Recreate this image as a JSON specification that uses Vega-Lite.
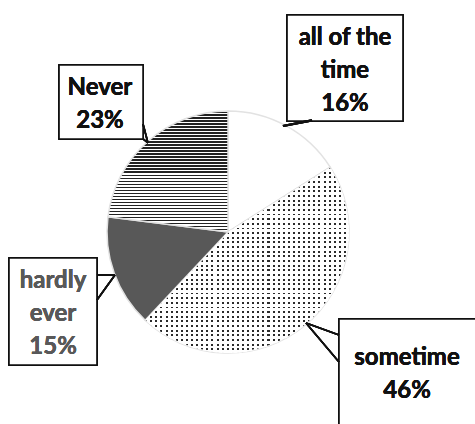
{
  "$schema": "https://vega.github.io/schema/vega-lite/v6.json",
  "width": 475,
  "height": 424,
  "padding": 0,
  "autosize": {"type": "none"},
  "background": "white",
  "config": {"view": {"stroke": null}},
  "data": {"values": [
    {"cat": "all of the time", "pct": 16, "idx": 1},
    {"cat": "sometime", "pct": 46, "idx": 2},
    {"cat": "hardly ever", "pct": 15, "idx": 3},
    {"cat": "Never", "pct": 23, "idx": 4}
  ]},
  "layer": [
    {
      "mark": {"type": "arc", "outerRadius": 121, "stroke": "#e2e2e2", "strokeWidth": 1.5},
      "encoding": {
        "x": {"datum": 0, "type": "quantitative", "scale": {"domain": [-1.9, 2.0583], "nice": false, "zero": false}, "axis": null},
        "y": {"datum": 0, "type": "quantitative", "scale": {"domain": [-1.6, 1.9333], "nice": false, "zero": false}, "axis": null},
        "theta": {"field": "pct", "type": "quantitative", "stack": true},
        "order": {"field": "idx", "type": "quantitative"},
        "color": {
          "condition": [
            {"test": "datum.cat === 'Never'", "value": {"gradient": "linear", "x1": 0, "y1": 0, "x2": 0, "y2": 1, "stops": [
{"offset":0,"color":"#222"},{"offset":0.0125,"color":"#222"},{"offset":0.0125,"color":"#fff"},{"offset":0.025,"color":"#fff"},
{"offset":0.025,"color":"#222"},{"offset":0.0375,"color":"#222"},{"offset":0.0375,"color":"#fff"},{"offset":0.05,"color":"#fff"},
{"offset":0.05,"color":"#222"},{"offset":0.0625,"color":"#222"},{"offset":0.0625,"color":"#fff"},{"offset":0.075,"color":"#fff"},
{"offset":0.075,"color":"#222"},{"offset":0.0875,"color":"#222"},{"offset":0.0875,"color":"#fff"},{"offset":0.1,"color":"#fff"},
{"offset":0.1,"color":"#222"},{"offset":0.1125,"color":"#222"},{"offset":0.1125,"color":"#fff"},{"offset":0.125,"color":"#fff"},
{"offset":0.125,"color":"#222"},{"offset":0.1375,"color":"#222"},{"offset":0.1375,"color":"#fff"},{"offset":0.15,"color":"#fff"},
{"offset":0.15,"color":"#222"},{"offset":0.1625,"color":"#222"},{"offset":0.1625,"color":"#fff"},{"offset":0.175,"color":"#fff"},
{"offset":0.175,"color":"#222"},{"offset":0.1875,"color":"#222"},{"offset":0.1875,"color":"#fff"},{"offset":0.2,"color":"#fff"},
{"offset":0.2,"color":"#222"},{"offset":0.2125,"color":"#222"},{"offset":0.2125,"color":"#fff"},{"offset":0.225,"color":"#fff"},
{"offset":0.225,"color":"#222"},{"offset":0.2375,"color":"#222"},{"offset":0.2375,"color":"#fff"},{"offset":0.25,"color":"#fff"},
{"offset":0.25,"color":"#222"},{"offset":0.2625,"color":"#222"},{"offset":0.2625,"color":"#fff"},{"offset":0.275,"color":"#fff"},
{"offset":0.275,"color":"#222"},{"offset":0.2875,"color":"#222"},{"offset":0.2875,"color":"#fff"},{"offset":0.3,"color":"#fff"},
{"offset":0.3,"color":"#222"},{"offset":0.3125,"color":"#222"},{"offset":0.3125,"color":"#fff"},{"offset":0.325,"color":"#fff"},
{"offset":0.325,"color":"#222"},{"offset":0.3375,"color":"#222"},{"offset":0.3375,"color":"#fff"},{"offset":0.35,"color":"#fff"},
{"offset":0.35,"color":"#222"},{"offset":0.3625,"color":"#222"},{"offset":0.3625,"color":"#fff"},{"offset":0.375,"color":"#fff"},
{"offset":0.375,"color":"#222"},{"offset":0.3875,"color":"#222"},{"offset":0.3875,"color":"#fff"},{"offset":0.4,"color":"#fff"},
{"offset":0.4,"color":"#222"},{"offset":0.4125,"color":"#222"},{"offset":0.4125,"color":"#fff"},{"offset":0.425,"color":"#fff"},
{"offset":0.425,"color":"#222"},{"offset":0.4375,"color":"#222"},{"offset":0.4375,"color":"#fff"},{"offset":0.45,"color":"#fff"},
{"offset":0.45,"color":"#222"},{"offset":0.4625,"color":"#222"},{"offset":0.4625,"color":"#fff"},{"offset":0.475,"color":"#fff"},
{"offset":0.475,"color":"#222"},{"offset":0.4875,"color":"#222"},{"offset":0.4875,"color":"#fff"},{"offset":0.5,"color":"#fff"},
{"offset":0.5,"color":"#222"},{"offset":0.5125,"color":"#222"},{"offset":0.5125,"color":"#fff"},{"offset":0.525,"color":"#fff"},
{"offset":0.525,"color":"#222"},{"offset":0.5375,"color":"#222"},{"offset":0.5375,"color":"#fff"},{"offset":0.55,"color":"#fff"},
{"offset":0.55,"color":"#222"},{"offset":0.5625,"color":"#222"},{"offset":0.5625,"color":"#fff"},{"offset":0.575,"color":"#fff"},
{"offset":0.575,"color":"#222"},{"offset":0.5875,"color":"#222"},{"offset":0.5875,"color":"#fff"},{"offset":0.6,"color":"#fff"},
{"offset":0.6,"color":"#222"},{"offset":0.6125,"color":"#222"},{"offset":0.6125,"color":"#fff"},{"offset":0.625,"color":"#fff"},
{"offset":0.625,"color":"#222"},{"offset":0.6375,"color":"#222"},{"offset":0.6375,"color":"#fff"},{"offset":0.65,"color":"#fff"},
{"offset":0.65,"color":"#222"},{"offset":0.6625,"color":"#222"},{"offset":0.6625,"color":"#fff"},{"offset":0.675,"color":"#fff"},
{"offset":0.675,"color":"#222"},{"offset":0.6875,"color":"#222"},{"offset":0.6875,"color":"#fff"},{"offset":0.7,"color":"#fff"},
{"offset":0.7,"color":"#222"},{"offset":0.7125,"color":"#222"},{"offset":0.7125,"color":"#fff"},{"offset":0.725,"color":"#fff"},
{"offset":0.725,"color":"#222"},{"offset":0.7375,"color":"#222"},{"offset":0.7375,"color":"#fff"},{"offset":0.75,"color":"#fff"},
{"offset":0.75,"color":"#222"},{"offset":0.7625,"color":"#222"},{"offset":0.7625,"color":"#fff"},{"offset":0.775,"color":"#fff"},
{"offset":0.775,"color":"#222"},{"offset":0.7875,"color":"#222"},{"offset":0.7875,"color":"#fff"},{"offset":0.8,"color":"#fff"},
{"offset":0.8,"color":"#222"},{"offset":0.8125,"color":"#222"},{"offset":0.8125,"color":"#fff"},{"offset":0.825,"color":"#fff"},
{"offset":0.825,"color":"#222"},{"offset":0.8375,"color":"#222"},{"offset":0.8375,"color":"#fff"},{"offset":0.85,"color":"#fff"},
{"offset":0.85,"color":"#222"},{"offset":0.8625,"color":"#222"},{"offset":0.8625,"color":"#fff"},{"offset":0.875,"color":"#fff"},
{"offset":0.875,"color":"#222"},{"offset":0.8875,"color":"#222"},{"offset":0.8875,"color":"#fff"},{"offset":0.9,"color":"#fff"},
{"offset":0.9,"color":"#222"},{"offset":0.9125,"color":"#222"},{"offset":0.9125,"color":"#fff"},{"offset":0.925,"color":"#fff"},
{"offset":0.925,"color":"#222"},{"offset":0.9375,"color":"#222"},{"offset":0.9375,"color":"#fff"},{"offset":0.95,"color":"#fff"},
{"offset":0.95,"color":"#222"},{"offset":0.9625,"color":"#222"},{"offset":0.9625,"color":"#fff"},{"offset":0.975,"color":"#fff"},
{"offset":0.975,"color":"#222"},{"offset":0.9875,"color":"#222"},{"offset":0.9875,"color":"#fff"},{"offset":1,"color":"#fff"}
            ]}},
            {"test": "datum.cat === 'sometime'", "value": "#2a2a2a"},
            {"test": "datum.cat === 'hardly ever'", "value": "#585858"}
          ],
          "value": "#ffffff"
        }
      }
    },
    {
      "mark": {"type": "arc", "outerRadius": 121, "strokeWidth": 0},
      "encoding": {
        "x": {"datum": 0, "type": "quantitative"},
        "y": {"datum": 0, "type": "quantitative"},
        "theta": {"field": "pct", "type": "quantitative", "stack": true},
        "order": {"field": "idx", "type": "quantitative"},
        "color": {
          "condition": {"test": "datum.cat === 'sometime'", "value": {"gradient": "linear", "x1": 0, "y1": 0, "x2": 0, "y2": 1, "stops": [
{"offset":0,"color":"rgba(255,255,255,0)"},{"offset":0.01,"color":"rgba(255,255,255,0)"},{"offset":0.01,"color":"#fff"},{"offset":0.025,"color":"#fff"},
{"offset":0.025,"color":"rgba(255,255,255,0)"},{"offset":0.035,"color":"rgba(255,255,255,0)"},{"offset":0.035,"color":"#fff"},{"offset":0.05,"color":"#fff"},
{"offset":0.05,"color":"rgba(255,255,255,0)"},{"offset":0.06,"color":"rgba(255,255,255,0)"},{"offset":0.06,"color":"#fff"},{"offset":0.075,"color":"#fff"},
{"offset":0.075,"color":"rgba(255,255,255,0)"},{"offset":0.085,"color":"rgba(255,255,255,0)"},{"offset":0.085,"color":"#fff"},{"offset":0.1,"color":"#fff"},
{"offset":0.1,"color":"rgba(255,255,255,0)"},{"offset":0.11,"color":"rgba(255,255,255,0)"},{"offset":0.11,"color":"#fff"},{"offset":0.125,"color":"#fff"},
{"offset":0.125,"color":"rgba(255,255,255,0)"},{"offset":0.135,"color":"rgba(255,255,255,0)"},{"offset":0.135,"color":"#fff"},{"offset":0.15,"color":"#fff"},
{"offset":0.15,"color":"rgba(255,255,255,0)"},{"offset":0.16,"color":"rgba(255,255,255,0)"},{"offset":0.16,"color":"#fff"},{"offset":0.175,"color":"#fff"},
{"offset":0.175,"color":"rgba(255,255,255,0)"},{"offset":0.185,"color":"rgba(255,255,255,0)"},{"offset":0.185,"color":"#fff"},{"offset":0.2,"color":"#fff"},
{"offset":0.2,"color":"rgba(255,255,255,0)"},{"offset":0.21,"color":"rgba(255,255,255,0)"},{"offset":0.21,"color":"#fff"},{"offset":0.225,"color":"#fff"},
{"offset":0.225,"color":"rgba(255,255,255,0)"},{"offset":0.235,"color":"rgba(255,255,255,0)"},{"offset":0.235,"color":"#fff"},{"offset":0.25,"color":"#fff"},
{"offset":0.25,"color":"rgba(255,255,255,0)"},{"offset":0.26,"color":"rgba(255,255,255,0)"},{"offset":0.26,"color":"#fff"},{"offset":0.275,"color":"#fff"},
{"offset":0.275,"color":"rgba(255,255,255,0)"},{"offset":0.285,"color":"rgba(255,255,255,0)"},{"offset":0.285,"color":"#fff"},{"offset":0.3,"color":"#fff"},
{"offset":0.3,"color":"rgba(255,255,255,0)"},{"offset":0.31,"color":"rgba(255,255,255,0)"},{"offset":0.31,"color":"#fff"},{"offset":0.325,"color":"#fff"},
{"offset":0.325,"color":"rgba(255,255,255,0)"},{"offset":0.335,"color":"rgba(255,255,255,0)"},{"offset":0.335,"color":"#fff"},{"offset":0.35,"color":"#fff"},
{"offset":0.35,"color":"rgba(255,255,255,0)"},{"offset":0.36,"color":"rgba(255,255,255,0)"},{"offset":0.36,"color":"#fff"},{"offset":0.375,"color":"#fff"},
{"offset":0.375,"color":"rgba(255,255,255,0)"},{"offset":0.385,"color":"rgba(255,255,255,0)"},{"offset":0.385,"color":"#fff"},{"offset":0.4,"color":"#fff"},
{"offset":0.4,"color":"rgba(255,255,255,0)"},{"offset":0.41,"color":"rgba(255,255,255,0)"},{"offset":0.41,"color":"#fff"},{"offset":0.425,"color":"#fff"},
{"offset":0.425,"color":"rgba(255,255,255,0)"},{"offset":0.435,"color":"rgba(255,255,255,0)"},{"offset":0.435,"color":"#fff"},{"offset":0.45,"color":"#fff"},
{"offset":0.45,"color":"rgba(255,255,255,0)"},{"offset":0.46,"color":"rgba(255,255,255,0)"},{"offset":0.46,"color":"#fff"},{"offset":0.475,"color":"#fff"},
{"offset":0.475,"color":"rgba(255,255,255,0)"},{"offset":0.485,"color":"rgba(255,255,255,0)"},{"offset":0.485,"color":"#fff"},{"offset":0.5,"color":"#fff"},
{"offset":0.5,"color":"rgba(255,255,255,0)"},{"offset":0.51,"color":"rgba(255,255,255,0)"},{"offset":0.51,"color":"#fff"},{"offset":0.525,"color":"#fff"},
{"offset":0.525,"color":"rgba(255,255,255,0)"},{"offset":0.535,"color":"rgba(255,255,255,0)"},{"offset":0.535,"color":"#fff"},{"offset":0.55,"color":"#fff"},
{"offset":0.55,"color":"rgba(255,255,255,0)"},{"offset":0.56,"color":"rgba(255,255,255,0)"},{"offset":0.56,"color":"#fff"},{"offset":0.575,"color":"#fff"},
{"offset":0.575,"color":"rgba(255,255,255,0)"},{"offset":0.585,"color":"rgba(255,255,255,0)"},{"offset":0.585,"color":"#fff"},{"offset":0.6,"color":"#fff"},
{"offset":0.6,"color":"rgba(255,255,255,0)"},{"offset":0.61,"color":"rgba(255,255,255,0)"},{"offset":0.61,"color":"#fff"},{"offset":0.625,"color":"#fff"},
{"offset":0.625,"color":"rgba(255,255,255,0)"},{"offset":0.635,"color":"rgba(255,255,255,0)"},{"offset":0.635,"color":"#fff"},{"offset":0.65,"color":"#fff"},
{"offset":0.65,"color":"rgba(255,255,255,0)"},{"offset":0.66,"color":"rgba(255,255,255,0)"},{"offset":0.66,"color":"#fff"},{"offset":0.675,"color":"#fff"},
{"offset":0.675,"color":"rgba(255,255,255,0)"},{"offset":0.685,"color":"rgba(255,255,255,0)"},{"offset":0.685,"color":"#fff"},{"offset":0.7,"color":"#fff"},
{"offset":0.7,"color":"rgba(255,255,255,0)"},{"offset":0.71,"color":"rgba(255,255,255,0)"},{"offset":0.71,"color":"#fff"},{"offset":0.725,"color":"#fff"},
{"offset":0.725,"color":"rgba(255,255,255,0)"},{"offset":0.735,"color":"rgba(255,255,255,0)"},{"offset":0.735,"color":"#fff"},{"offset":0.75,"color":"#fff"},
{"offset":0.75,"color":"rgba(255,255,255,0)"},{"offset":0.76,"color":"rgba(255,255,255,0)"},{"offset":0.76,"color":"#fff"},{"offset":0.775,"color":"#fff"},
{"offset":0.775,"color":"rgba(255,255,255,0)"},{"offset":0.785,"color":"rgba(255,255,255,0)"},{"offset":0.785,"color":"#fff"},{"offset":0.8,"color":"#fff"},
{"offset":0.8,"color":"rgba(255,255,255,0)"},{"offset":0.81,"color":"rgba(255,255,255,0)"},{"offset":0.81,"color":"#fff"},{"offset":0.825,"color":"#fff"},
{"offset":0.825,"color":"rgba(255,255,255,0)"},{"offset":0.835,"color":"rgba(255,255,255,0)"},{"offset":0.835,"color":"#fff"},{"offset":0.85,"color":"#fff"},
{"offset":0.85,"color":"rgba(255,255,255,0)"},{"offset":0.86,"color":"rgba(255,255,255,0)"},{"offset":0.86,"color":"#fff"},{"offset":0.875,"color":"#fff"},
{"offset":0.875,"color":"rgba(255,255,255,0)"},{"offset":0.885,"color":"rgba(255,255,255,0)"},{"offset":0.885,"color":"#fff"},{"offset":0.9,"color":"#fff"},
{"offset":0.9,"color":"rgba(255,255,255,0)"},{"offset":0.91,"color":"rgba(255,255,255,0)"},{"offset":0.91,"color":"#fff"},{"offset":0.925,"color":"#fff"},
{"offset":0.925,"color":"rgba(255,255,255,0)"},{"offset":0.935,"color":"rgba(255,255,255,0)"},{"offset":0.935,"color":"#fff"},{"offset":0.95,"color":"#fff"},
{"offset":0.95,"color":"rgba(255,255,255,0)"},{"offset":0.96,"color":"rgba(255,255,255,0)"},{"offset":0.96,"color":"#fff"},{"offset":0.975,"color":"#fff"},
{"offset":0.975,"color":"rgba(255,255,255,0)"},{"offset":0.985,"color":"rgba(255,255,255,0)"},{"offset":0.985,"color":"#fff"},{"offset":1,"color":"#fff"}
          ]}},
          "value": "rgba(255,255,255,0)"
        }
      }
    },
    {
      "mark": {"type": "arc", "outerRadius": 121, "strokeWidth": 0},
      "encoding": {
        "x": {"datum": 0, "type": "quantitative"},
        "y": {"datum": 0, "type": "quantitative"},
        "theta": {"field": "pct", "type": "quantitative", "stack": true},
        "order": {"field": "idx", "type": "quantitative"},
        "color": {
          "condition": {"test": "datum.cat === 'sometime'", "value": {"gradient": "linear", "x1": 0, "y1": 0, "x2": 1, "y2": 0, "stops": [
{"offset":0,"color":"rgba(255,255,255,0)"},{"offset":0.01,"color":"rgba(255,255,255,0)"},{"offset":0.01,"color":"#fff"},{"offset":0.025,"color":"#fff"},
{"offset":0.025,"color":"rgba(255,255,255,0)"},{"offset":0.035,"color":"rgba(255,255,255,0)"},{"offset":0.035,"color":"#fff"},{"offset":0.05,"color":"#fff"},
{"offset":0.05,"color":"rgba(255,255,255,0)"},{"offset":0.06,"color":"rgba(255,255,255,0)"},{"offset":0.06,"color":"#fff"},{"offset":0.075,"color":"#fff"},
{"offset":0.075,"color":"rgba(255,255,255,0)"},{"offset":0.085,"color":"rgba(255,255,255,0)"},{"offset":0.085,"color":"#fff"},{"offset":0.1,"color":"#fff"},
{"offset":0.1,"color":"rgba(255,255,255,0)"},{"offset":0.11,"color":"rgba(255,255,255,0)"},{"offset":0.11,"color":"#fff"},{"offset":0.125,"color":"#fff"},
{"offset":0.125,"color":"rgba(255,255,255,0)"},{"offset":0.135,"color":"rgba(255,255,255,0)"},{"offset":0.135,"color":"#fff"},{"offset":0.15,"color":"#fff"},
{"offset":0.15,"color":"rgba(255,255,255,0)"},{"offset":0.16,"color":"rgba(255,255,255,0)"},{"offset":0.16,"color":"#fff"},{"offset":0.175,"color":"#fff"},
{"offset":0.175,"color":"rgba(255,255,255,0)"},{"offset":0.185,"color":"rgba(255,255,255,0)"},{"offset":0.185,"color":"#fff"},{"offset":0.2,"color":"#fff"},
{"offset":0.2,"color":"rgba(255,255,255,0)"},{"offset":0.21,"color":"rgba(255,255,255,0)"},{"offset":0.21,"color":"#fff"},{"offset":0.225,"color":"#fff"},
{"offset":0.225,"color":"rgba(255,255,255,0)"},{"offset":0.235,"color":"rgba(255,255,255,0)"},{"offset":0.235,"color":"#fff"},{"offset":0.25,"color":"#fff"},
{"offset":0.25,"color":"rgba(255,255,255,0)"},{"offset":0.26,"color":"rgba(255,255,255,0)"},{"offset":0.26,"color":"#fff"},{"offset":0.275,"color":"#fff"},
{"offset":0.275,"color":"rgba(255,255,255,0)"},{"offset":0.285,"color":"rgba(255,255,255,0)"},{"offset":0.285,"color":"#fff"},{"offset":0.3,"color":"#fff"},
{"offset":0.3,"color":"rgba(255,255,255,0)"},{"offset":0.31,"color":"rgba(255,255,255,0)"},{"offset":0.31,"color":"#fff"},{"offset":0.325,"color":"#fff"},
{"offset":0.325,"color":"rgba(255,255,255,0)"},{"offset":0.335,"color":"rgba(255,255,255,0)"},{"offset":0.335,"color":"#fff"},{"offset":0.35,"color":"#fff"},
{"offset":0.35,"color":"rgba(255,255,255,0)"},{"offset":0.36,"color":"rgba(255,255,255,0)"},{"offset":0.36,"color":"#fff"},{"offset":0.375,"color":"#fff"},
{"offset":0.375,"color":"rgba(255,255,255,0)"},{"offset":0.385,"color":"rgba(255,255,255,0)"},{"offset":0.385,"color":"#fff"},{"offset":0.4,"color":"#fff"},
{"offset":0.4,"color":"rgba(255,255,255,0)"},{"offset":0.41,"color":"rgba(255,255,255,0)"},{"offset":0.41,"color":"#fff"},{"offset":0.425,"color":"#fff"},
{"offset":0.425,"color":"rgba(255,255,255,0)"},{"offset":0.435,"color":"rgba(255,255,255,0)"},{"offset":0.435,"color":"#fff"},{"offset":0.45,"color":"#fff"},
{"offset":0.45,"color":"rgba(255,255,255,0)"},{"offset":0.46,"color":"rgba(255,255,255,0)"},{"offset":0.46,"color":"#fff"},{"offset":0.475,"color":"#fff"},
{"offset":0.475,"color":"rgba(255,255,255,0)"},{"offset":0.485,"color":"rgba(255,255,255,0)"},{"offset":0.485,"color":"#fff"},{"offset":0.5,"color":"#fff"},
{"offset":0.5,"color":"rgba(255,255,255,0)"},{"offset":0.51,"color":"rgba(255,255,255,0)"},{"offset":0.51,"color":"#fff"},{"offset":0.525,"color":"#fff"},
{"offset":0.525,"color":"rgba(255,255,255,0)"},{"offset":0.535,"color":"rgba(255,255,255,0)"},{"offset":0.535,"color":"#fff"},{"offset":0.55,"color":"#fff"},
{"offset":0.55,"color":"rgba(255,255,255,0)"},{"offset":0.56,"color":"rgba(255,255,255,0)"},{"offset":0.56,"color":"#fff"},{"offset":0.575,"color":"#fff"},
{"offset":0.575,"color":"rgba(255,255,255,0)"},{"offset":0.585,"color":"rgba(255,255,255,0)"},{"offset":0.585,"color":"#fff"},{"offset":0.6,"color":"#fff"},
{"offset":0.6,"color":"rgba(255,255,255,0)"},{"offset":0.61,"color":"rgba(255,255,255,0)"},{"offset":0.61,"color":"#fff"},{"offset":0.625,"color":"#fff"},
{"offset":0.625,"color":"rgba(255,255,255,0)"},{"offset":0.635,"color":"rgba(255,255,255,0)"},{"offset":0.635,"color":"#fff"},{"offset":0.65,"color":"#fff"},
{"offset":0.65,"color":"rgba(255,255,255,0)"},{"offset":0.66,"color":"rgba(255,255,255,0)"},{"offset":0.66,"color":"#fff"},{"offset":0.675,"color":"#fff"},
{"offset":0.675,"color":"rgba(255,255,255,0)"},{"offset":0.685,"color":"rgba(255,255,255,0)"},{"offset":0.685,"color":"#fff"},{"offset":0.7,"color":"#fff"},
{"offset":0.7,"color":"rgba(255,255,255,0)"},{"offset":0.71,"color":"rgba(255,255,255,0)"},{"offset":0.71,"color":"#fff"},{"offset":0.725,"color":"#fff"},
{"offset":0.725,"color":"rgba(255,255,255,0)"},{"offset":0.735,"color":"rgba(255,255,255,0)"},{"offset":0.735,"color":"#fff"},{"offset":0.75,"color":"#fff"},
{"offset":0.75,"color":"rgba(255,255,255,0)"},{"offset":0.76,"color":"rgba(255,255,255,0)"},{"offset":0.76,"color":"#fff"},{"offset":0.775,"color":"#fff"},
{"offset":0.775,"color":"rgba(255,255,255,0)"},{"offset":0.785,"color":"rgba(255,255,255,0)"},{"offset":0.785,"color":"#fff"},{"offset":0.8,"color":"#fff"},
{"offset":0.8,"color":"rgba(255,255,255,0)"},{"offset":0.81,"color":"rgba(255,255,255,0)"},{"offset":0.81,"color":"#fff"},{"offset":0.825,"color":"#fff"},
{"offset":0.825,"color":"rgba(255,255,255,0)"},{"offset":0.835,"color":"rgba(255,255,255,0)"},{"offset":0.835,"color":"#fff"},{"offset":0.85,"color":"#fff"},
{"offset":0.85,"color":"rgba(255,255,255,0)"},{"offset":0.86,"color":"rgba(255,255,255,0)"},{"offset":0.86,"color":"#fff"},{"offset":0.875,"color":"#fff"},
{"offset":0.875,"color":"rgba(255,255,255,0)"},{"offset":0.885,"color":"rgba(255,255,255,0)"},{"offset":0.885,"color":"#fff"},{"offset":0.9,"color":"#fff"},
{"offset":0.9,"color":"rgba(255,255,255,0)"},{"offset":0.91,"color":"rgba(255,255,255,0)"},{"offset":0.91,"color":"#fff"},{"offset":0.925,"color":"#fff"},
{"offset":0.925,"color":"rgba(255,255,255,0)"},{"offset":0.935,"color":"rgba(255,255,255,0)"},{"offset":0.935,"color":"#fff"},{"offset":0.95,"color":"#fff"},
{"offset":0.95,"color":"rgba(255,255,255,0)"},{"offset":0.96,"color":"rgba(255,255,255,0)"},{"offset":0.96,"color":"#fff"},{"offset":0.975,"color":"#fff"},
{"offset":0.975,"color":"rgba(255,255,255,0)"},{"offset":0.985,"color":"rgba(255,255,255,0)"},{"offset":0.985,"color":"#fff"},{"offset":1,"color":"#fff"}
          ]}},
          "value": "rgba(255,255,255,0)"
        }
      }
    },
    {
      "mark": {"type": "rect", "fill": "white", "stroke": "#111", "strokeWidth": 1.6},
      "encoding": {
        "x": {"datum": 0.492, "type": "quantitative"}, "x2": {"datum": 1.458},
        "y": {"datum": 1.808, "type": "quantitative"}, "y2": {"datum": 0.925}
      }
    },
    {
      "mark": {"type": "rect", "fill": "white", "stroke": "#111", "strokeWidth": 1.6},
      "encoding": {
        "x": {"datum": -1.408, "type": "quantitative"}, "x2": {"datum": -0.708},
        "y": {"datum": 1.392, "type": "quantitative"}, "y2": {"datum": 0.775}
      }
    },
    {
      "mark": {"type": "rect", "fill": "white", "stroke": "#111", "strokeWidth": 1.6},
      "encoding": {
        "x": {"datum": -1.825, "type": "quantitative"}, "x2": {"datum": -1.092},
        "y": {"datum": -0.217, "type": "quantitative"}, "y2": {"datum": -1.108}
      }
    },
    {
      "mark": {"type": "rect", "fill": "white", "stroke": "#111", "strokeWidth": 1.6},
      "encoding": {
        "x": {"datum": 0.925, "type": "quantitative"}, "x2": {"datum": 2.3},
        "y": {"datum": -0.725, "type": "quantitative"}, "y2": {"datum": -1.8}
      }
    },
    {
      "mark": {"type": "rule", "stroke": "#111", "strokeWidth": 2.2},
      "encoding": {
        "x": {"datum": 0.7, "type": "quantitative"}, "x2": {"datum": 0.458},
        "y": {"datum": 0.93, "type": "quantitative"}, "y2": {"datum": 0.883}
      }
    },
    {
      "mark": {"type": "rule", "stroke": "#111", "strokeWidth": 1.6},
      "encoding": {
        "x": {"datum": -0.708, "type": "quantitative"}, "x2": {"datum": -0.667},
        "y": {"datum": 0.9, "type": "quantitative"}, "y2": {"datum": 0.742}
      }
    },
    {
      "mark": {"type": "rule", "stroke": "#111", "strokeWidth": 1.6},
      "encoding": {
        "x": {"datum": -0.667, "type": "quantitative"}, "x2": {"datum": -0.708},
        "y": {"datum": 0.742, "type": "quantitative"}, "y2": {"datum": 0.775}
      }
    },
    {
      "mark": {"type": "rule", "stroke": "#111", "strokeWidth": 1.6},
      "encoding": {
        "x": {"datum": -1.092, "type": "quantitative"}, "x2": {"datum": -0.942},
        "y": {"datum": -0.358, "type": "quantitative"}, "y2": {"datum": -0.358}
      }
    },
    {
      "mark": {"type": "rule", "stroke": "#111", "strokeWidth": 1.6},
      "encoding": {
        "x": {"datum": -0.942, "type": "quantitative"}, "x2": {"datum": -1.092},
        "y": {"datum": -0.358, "type": "quantitative"}, "y2": {"datum": -0.567}
      }
    },
    {
      "mark": {"type": "rule", "stroke": "#111", "strokeWidth": 1.6},
      "encoding": {
        "x": {"datum": 0.925, "type": "quantitative"}, "x2": {"datum": 0.65},
        "y": {"datum": -0.858, "type": "quantitative"}, "y2": {"datum": -0.758}
      }
    },
    {
      "mark": {"type": "rule", "stroke": "#111", "strokeWidth": 1.6},
      "encoding": {
        "x": {"datum": 0.65, "type": "quantitative"}, "x2": {"datum": 0.925},
        "y": {"datum": -0.758, "type": "quantitative"}, "y2": {"datum": -1.083}
      }
    },
    {
      "mark": {"type": "text", "font": "Lato", "fontWeight": "bold", "fontSize": 24, "lineHeight": 33, "align": "center", "baseline": "middle", "color": "#111"},
      "encoding": {
        "x": {"datum": 0.975, "type": "quantitative"},
        "y": {"datum": 1.617, "type": "quantitative"},
        "text": {"value": ["all of the", "time", "16%"]}
      }
    },
    {
      "mark": {"type": "text", "font": "Lato", "fontWeight": "bold", "fontSize": 24, "lineHeight": 33, "align": "center", "baseline": "middle", "color": "#111"},
      "encoding": {
        "x": {"datum": -1.067, "type": "quantitative"},
        "y": {"datum": 1.2, "type": "quantitative"},
        "text": {"value": ["Never", "23%"]}
      }
    },
    {
      "mark": {"type": "text", "font": "Lato", "fontWeight": "bold", "fontSize": 24, "lineHeight": 33, "align": "center", "baseline": "middle", "color": "#595959"},
      "encoding": {
        "x": {"datum": -1.458, "type": "quantitative"},
        "y": {"datum": -0.408, "type": "quantitative"},
        "text": {"value": ["hardly", "ever", "15%"]}
      }
    },
    {
      "mark": {"type": "text", "font": "Lato", "fontWeight": "bold", "fontSize": 24, "lineHeight": 33, "align": "center", "baseline": "middle", "color": "#111"},
      "encoding": {
        "x": {"datum": 1.492, "type": "quantitative"},
        "y": {"datum": -1.05, "type": "quantitative"},
        "text": {"value": ["sometime", "46%"]}
      }
    }
  ]
}
